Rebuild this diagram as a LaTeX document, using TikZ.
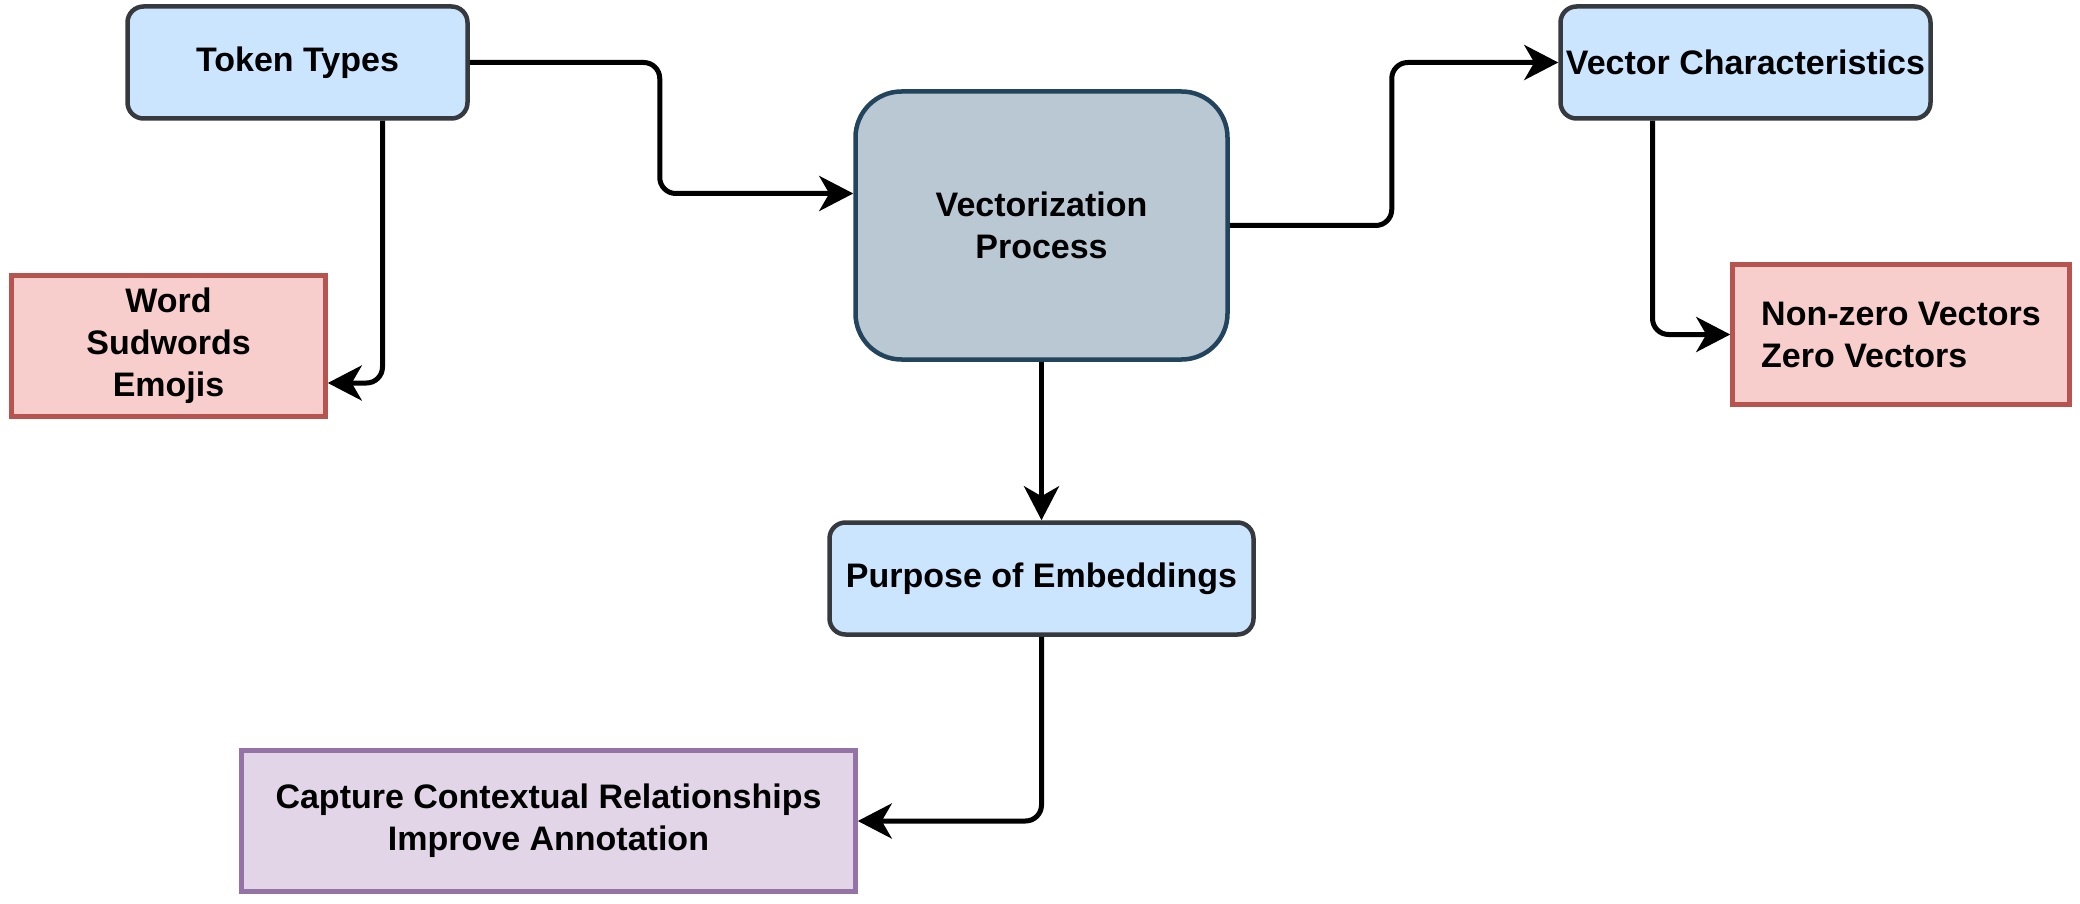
\documentclass[tikz,border=0pt]{standalone}
\usepackage{fontspec}
\setmainfont{Liberation Sans}
\usetikzlibrary{arrows.meta}
\definecolor{bluefill}{HTML}{CCE5FF}
\definecolor{blueline}{HTML}{36393D}
\definecolor{vecfill}{HTML}{BAC8D3}
\definecolor{vecline}{HTML}{23445D}
\definecolor{redfill}{HTML}{F8CECC}
\definecolor{redline}{HTML}{B85450}
\definecolor{purfill}{HTML}{E1D5E7}
\definecolor{purline}{HTML}{9673A6}
\tikzset{
  basebox/.style={line width=4.5pt, inner sep=2pt, align=center,
    font=\fontsize{34}{42}\selectfont\bfseries},
  bluebox/.style={basebox, fill=bluefill, draw=blueline, rounded corners=16pt},
  vecbox/.style={basebox, fill=vecfill, draw=vecline, rounded corners=46pt},
  redbox/.style={basebox, fill=redfill, draw=redline},
  purbox/.style={basebox, fill=purfill, draw=purline},
  conn/.style={line width=5pt, rounded corners=16pt,
    -{Stealth[length=34pt,width=35pt,inset=10pt]}}
}
\begin{document}
\begin{tikzpicture}[x=1pt,y=-1pt]
\useasboundingbox (0,0) rectangle (2080,904);
\node[bluebox, minimum width=340pt, minimum height=112pt] (tok) at (297.5,62.5) {Token Types};
\node[redbox, minimum width=314pt, minimum height=141pt] (word) at (168.5,346) {Word\\Sudwords\\Emojis};
\node[vecbox, minimum width=372pt, minimum height=268pt] (vec) at (1041.5,225.5) {Vectorization\\Process};
\node[bluebox, minimum width=370pt, minimum height=112pt] (vc) at (1745.5,62.5) {Vector Characteristics};
\node[redbox, align=left, minimum width=337pt, minimum height=140pt] (nz) at (1901,334.5) {Non-zero Vectors\\Zero Vectors};
\node[bluebox, minimum width=424pt, minimum height=112pt] (pur) at (1041.5,578.5) {Purpose of Embeddings};
\node[purbox, minimum width=614pt, minimum height=141pt] (cap) at (548.5,821) {Capture Contextual Relationships\\Improve Annotation};

\draw[conn] (tok.east) -- ++(190,0) |- ([yshift=32pt]vec.west);
\draw[conn] ([xshift=85pt]tok.south) |- ([yshift=-37pt]word.east);
\draw[conn] (vec.east) -- ++(162,0) |- (vc.west);
\draw[conn] ([xshift=-93pt]vc.south) |- (nz.west);
\draw[conn] (vec.south) -- (pur.north);
\draw[conn] (pur.south) |- (cap.east);
\end{tikzpicture}
\end{document}
